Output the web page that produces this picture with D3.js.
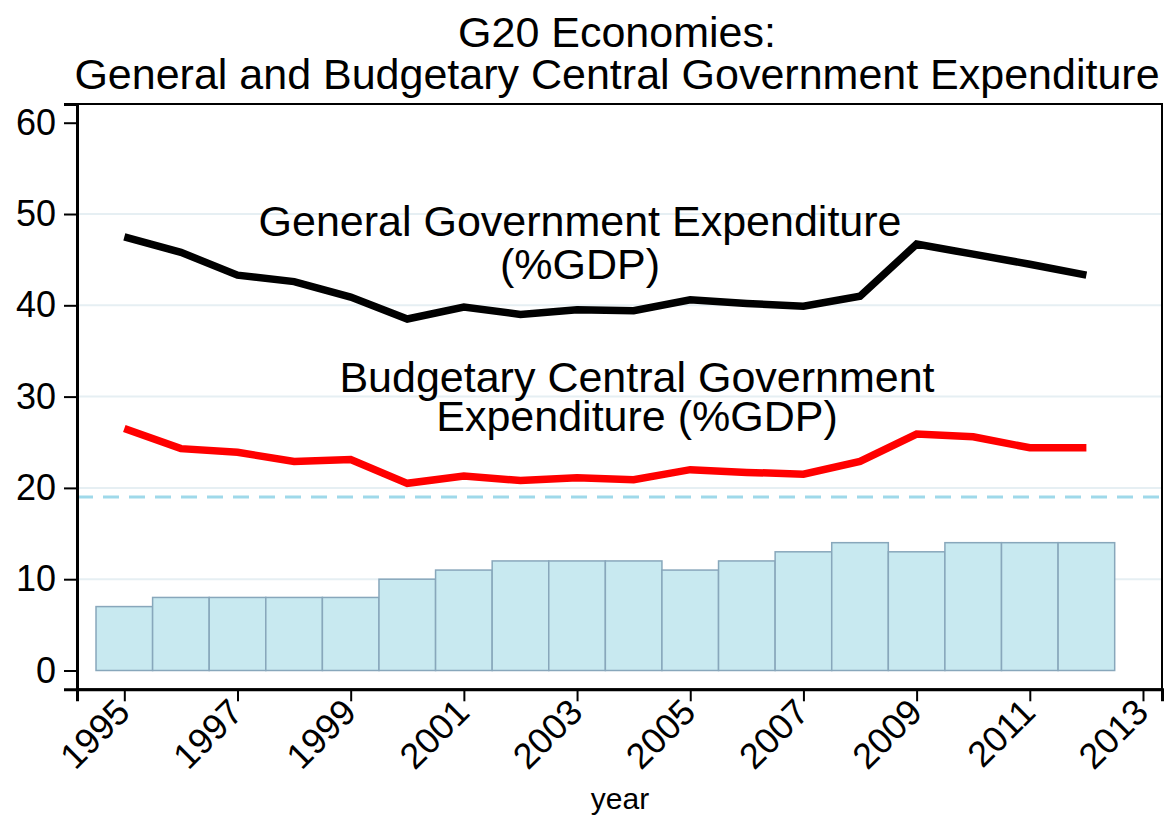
<!DOCTYPE html>
<html>
<head>
<meta charset="utf-8">
<script src="https://cdn.jsdelivr.net/npm/d3@7"></script>
<style>
  html, body { margin: 0; padding: 0; background: #fff; }
  svg { display: block; }
  text { font-family: "Liberation Sans", Arial, Helvetica, sans-serif; fill: #000; }
</style>
</head>
<body>
<svg id="chart" width="1174" height="816"></svg>
<script>
// ---- data ----
const years = [1995,1996,1997,1998,1999,2000,2001,2002,2003,2004,2005,2006,2007,2008,2009,2010,2011,2012];
const generalExp = [47.5,45.8,43.3,42.6,40.9,38.5,39.8,39.0,39.5,39.4,40.6,40.2,39.9,41.0,46.7,45.6,44.5,43.3];
const budgetaryExp = [26.5,24.3,23.9,22.9,23.1,20.5,21.3,20.8,21.1,20.9,22.0,21.7,21.5,22.9,25.9,25.6,24.4,24.4];
const barValues = [7,8,8,8,8,10,11,12,12,12,11,12,13,14,13,14,14,14];
const refLineValue = 19;
const yTicks = [0,10,20,30,40,50,60];
const gridValues = [10,20,30,40,50];
const xTicks = [1995,1997,1999,2001,2003,2005,2007,2009,2011,2013];
const titleLines = ["G20 Economies:", "General and Budgetary Central Government Expenditure"];
const generalLabel = ["General Government Expenditure", "(%GDP)"];
const budgetaryLabel = ["Budgetary Central Government", "Expenditure (%GDP)"];
const xTitle = "year";

// ---- layout ----
const L = 77, R = 1162, T = 104, B = 689.3;
const svg = d3.select("#chart");
const x = d3.scaleLinear().domain([1994.164, 2013.336]).range([L, R]);
const y = d3.scaleLinear().domain([-2.06, 62.05]).range([B, T]);

// grid
svg.append("g").selectAll("line").data(gridValues).join("line")
  .attr("x1", L).attr("x2", R)
  .attr("y1", d => y(d)).attr("y2", d => y(d))
  .attr("stroke", "#e6eff3").attr("stroke-width", 2);

// dashed reference line
svg.append("line")
  .attr("x1", L).attr("x2", R)
  .attr("y1", y(refLineValue)).attr("y2", y(refLineValue))
  .attr("stroke", "#9fd9ea").attr("stroke-width", 3)
  .attr("stroke-dasharray", "16,10");

// bars
const barW = x(1996) - x(1995);
svg.append("g").selectAll("rect").data(years).join("rect")
  .attr("x", (d) => x(d) - barW / 2)
  .attr("width", barW)
  .attr("y", (d, i) => y(barValues[i]))
  .attr("height", (d, i) => y(0) - y(barValues[i]))
  .attr("fill", "#c8e9f0")
  .attr("stroke", "#88a7bb")
  .attr("stroke-width", 1.5);

// lines
const lineGen = d3.line().x(d => x(d[0])).y(d => y(d[1]));
svg.append("path")
  .datum(years.map((yr, i) => [yr, budgetaryExp[i]]))
  .attr("d", lineGen)
  .attr("fill", "none").attr("stroke", "#ff0000").attr("stroke-width", 7.5)
  .attr("stroke-linejoin", "miter");
svg.append("path")
  .datum(years.map((yr, i) => [yr, generalExp[i]]))
  .attr("d", lineGen)
  .attr("fill", "none").attr("stroke", "#000").attr("stroke-width", 7.5)
  .attr("stroke-linejoin", "miter");

// frame
svg.append("rect").attr("x", L).attr("y", T).attr("width", R - L).attr("height", B - T)
  .attr("fill", "none").attr("stroke", "#000").attr("stroke-width", 2);

// y axis
const yAxis = d3.axisLeft(y).tickValues(yTicks).tickSize(13).tickPadding(8).tickFormat(d3.format("d"));
const gy = svg.append("g").attr("transform", `translate(${L},0)`).call(yAxis);
gy.select(".domain").attr("stroke-width", 3);
gy.selectAll(".tick line").attr("stroke-width", 2);
gy.selectAll(".tick text").style("font-size", "36px").attr("font-family", null);

// x axis
const xAxis = d3.axisBottom(x).tickValues(xTicks).tickSize(12).tickFormat(d3.format("d"));
const gx = svg.append("g").attr("transform", `translate(0,${B})`).call(xAxis);
gx.select(".domain").attr("stroke-width", 3);
gx.selectAll(".tick line").attr("stroke-width", 2);
gx.selectAll(".tick text")
  .style("font-size", "36px").attr("font-family", null)
  .attr("text-anchor", "end")
  .attr("y", 0).attr("dy", 0)
  .attr("transform", "translate(7,25) rotate(-45)");

// multi-line text helper (one text element, one tspan per line)
function multiLine(lines, cx, y0, lineGap, size) {
  const t = svg.append("text")
    .attr("x", cx).attr("y", y0)
    .attr("text-anchor", "middle").style("font-size", size + "px");
  t.selectAll("tspan").data(lines).join("tspan")
    .attr("x", cx)
    .attr("y", (d, i) => y0 + i * lineGap)
    .text(d => d);
  return t;
}

// title
multiLine(titleLines, 617, 47, 42, 43);
// annotations
multiLine(generalLabel, 580, 236, 43, 43);
multiLine(budgetaryLabel, 637, 392, 39, 43);

// x title
svg.append("text").attr("x", 620).attr("y", 809)
  .attr("text-anchor", "middle").style("font-size", "30px").text(xTitle);
</script>
</body>
</html>
